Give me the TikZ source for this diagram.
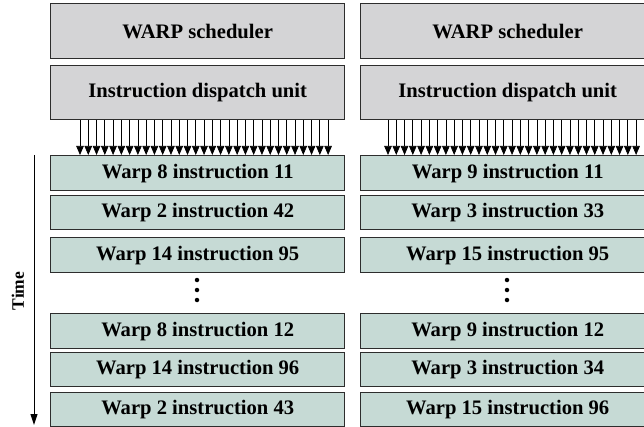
\documentclass[tikz,border=0pt]{standalone}
\usepackage{fontspec}
\setmainfont{Liberation Serif}
\usetikzlibrary{arrows.meta}
\definecolor{boxgrey}{RGB}{212,212,214}
\definecolor{boxgreen}{RGB}{198,218,213}
\definecolor{edge}{RGB}{45,45,45}
\begin{document}
\begin{tikzpicture}[x=1pt,y=-1pt,
  unitbox/.style={draw=edge,line width=1.4pt,fill=boxgrey,anchor=north west,
    minimum width=294pt,inner sep=0pt,font=\fontsize{20.6}{22}\selectfont\bfseries},
  instbox/.style={unitbox,fill=boxgreen},
  fanarrow/.style={line width=0.7pt,-{Triangle[length=9pt,width=7.5pt]}},
  timearrow/.style={line width=1pt,-{Triangle[length=11pt,width=7pt]}},
  dotmark/.style={circle,fill=black,inner sep=0pt,minimum size=4.5pt}]
\useasboundingbox (0,0) rectangle (644,427);
\begin{scope}
\clip (0,0) rectangle (644,427);
% left column
\node[unitbox,minimum height=55pt] (wsL) at (50,3) {WARP scheduler};
\node[unitbox,minimum height=54pt] (duL) at (50,65) {Instruction dispatch unit};
\node[instbox,minimum height=35pt] (aL) at (50,155) {Warp 8 instruction 11};
\node[instbox,minimum height=34pt] (bL) at (50,195) {Warp 2 instruction 42};
\node[instbox,minimum height=35pt] (cL) at (50,237) {Warp 14 instruction 95};
\node[instbox,minimum height=35pt] (dL) at (50,313) {Warp 8 instruction 12};
\node[instbox,minimum height=34pt] (eL) at (50,352) {Warp 14 instruction 96};
\node[instbox,minimum height=34pt] (fL) at (50,392) {Warp 2 instruction 43};
% right column
\node[unitbox,minimum height=55pt] (wsR) at (360,3) {WARP scheduler};
\node[unitbox,minimum height=54pt] (duR) at (360,65) {Instruction dispatch unit};
\node[instbox,minimum height=35pt] (aR) at (360,155) {Warp 9 instruction 11};
\node[instbox,minimum height=34pt] (bR) at (360,195) {Warp 3 instruction 33};
\node[instbox,minimum height=35pt] (cR) at (360,237) {Warp 15 instruction 95};
\node[instbox,minimum height=35pt] (dR) at (360,313) {Warp 9 instruction 12};
\node[instbox,minimum height=34pt] (eR) at (360,352) {Warp 3 instruction 34};
\node[instbox,minimum height=34pt] (fR) at (360,392) {Warp 15 instruction 96};
% fan of arrows
\foreach \i in {0,...,30}{
  \draw[fanarrow] ([xshift={30+\i*8.27}]duL.south west) -- ([xshift={30+\i*8.27}]aL.north west);
  \draw[fanarrow] ([xshift={28+\i*8.27}]duR.south west) -- ([xshift={28+\i*8.27}]aR.north west);
}
% dots
\node[dotmark] (d1L) at (197,280) {};
\node[dotmark] (d2L) at (197,290) {};
\node[dotmark] (d3L) at (197,300) {};
\node[dotmark] (d1R) at (507,280) {};
\node[dotmark] (d2R) at (507,290) {};
\node[dotmark] (d3R) at (507,300) {};
\end{scope}
% time axis
\coordinate (tTop) at (34,155);
\coordinate (tBot) at (34,425);
\draw[timearrow] (tTop) -- (tBot);
\node[rotate=90,font=\fontsize{17.5}{19}\selectfont\bfseries] (timeLbl) at (18,291) {Time};
\end{tikzpicture}
\end{document}
